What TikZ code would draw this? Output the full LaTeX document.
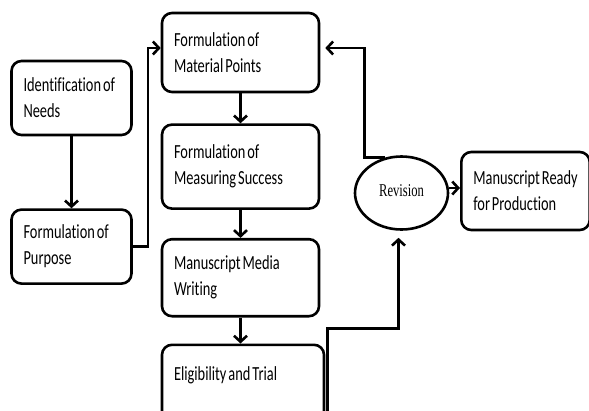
\documentclass[tikz,border=0pt]{standalone}
\usepackage{fontspec}
\setmainfont{Carlito}
\newfontfamily\calfont[FakeStretch=0.72, WordSpace=0.6, Ligatures=NoCommon]{Carlito}
\newfontfamily\timesfont[FakeStretch=0.7]{Liberation Serif}
\usetikzlibrary{arrows.meta,positioning,shapes.geometric}

\begin{document}
\begin{tikzpicture}[
            x=1pt, y=-1pt,
            >={Straight Barb[length=6pt,width=13pt]},
            node distance=28pt and 15pt,
            box/.style={draw, line width=2.6pt, rounded corners=10pt, inner xsep=12pt, inner ysep=0pt,
                align=flush left, font=\calfont\fontsize{20pt}{26pt}\selectfont},
            sidebox/.style={box, text width=96pt, minimum height=74pt},
            midbox/.style={box, text width=133pt, minimum height=79pt},
            link/.style={->, line width=2.6pt}
        ]
        \useasboundingbox (0,0) rectangle (589,410);
        \clip (0,0) rectangle (589,410);

        \node[sidebox] (needs) at (71.5,98) {Identification of\\Needs};
        \node[sidebox, below=72pt of needs] (purpose) {Formulation of\\Purpose};
        \draw[link] (needs) -- (purpose);

        \node[midbox] (matpts) at (240.5,52.5) {Formulation of\\Material Points};
        \node[midbox, below=30pt of matpts, minimum height=84pt] (success) {Formulation of\\Measuring Success};
        \node[midbox, below=28pt of success, minimum height=77pt] (media) {Manuscript Media\\Writing};
        \node[box, text width=138pt, minimum height=84pt, below=26pt of media, xshift=2.5pt] (elig) {Eligibility and Trial\\~};
        \draw[link] (purpose.east) -- ++(15,0) |- ([yshift=4.5pt]matpts.west);
        \draw[link] (matpts) -- (success);
        \draw[link] (success) -- (media);
        \draw[link] (media) -- (media |- elig.north);

        \node[ellipse, draw, line width=2.6pt, inner sep=0pt, minimum width=93pt, minimum height=73pt,
            font=\timesfont\fontsize{18pt}{22pt}\selectfont] (rev) at (401.5,193) {\raisebox{5pt}{Revision}};
        \node[box, minimum width=125pt, minimum height=78pt] (ready) at (525.5,191) {Manuscript Ready\\for Production};
        \draw[link, shorten >=5pt] ([xshift=-17pt,yshift=-2pt]rev.north) -- ++(-20,0) |- ([yshift=4.5pt]matpts.east);
        \draw[link] ([yshift=5pt]rev.east) -- ([yshift=5pt]rev.east -| ready.west);
        \draw[link, shorten >=7pt] ([xshift=2pt]elig.south east) |- ([yshift=15pt,xshift=-3pt]elig.north -| rev.south) -- ([xshift=-3pt]rev.south);
    \end{tikzpicture}
\end{document}
